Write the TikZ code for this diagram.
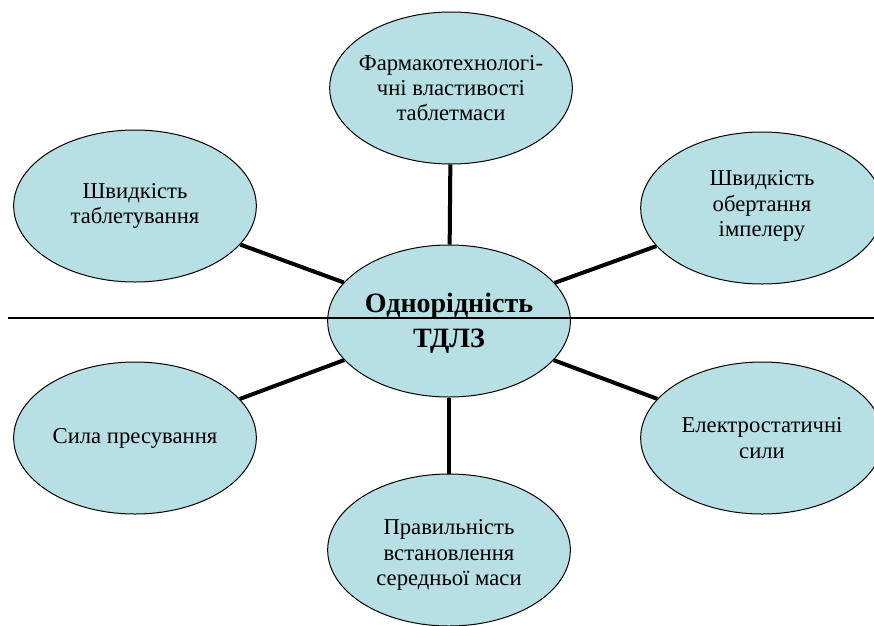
\documentclass[tikz,border=0pt]{standalone}
\usepackage{fontspec}
\setmainfont{LiberationSerif}[Extension=.ttf, UprightFont=*-Regular, BoldFont=*-Bold, ItalicFont=*-Italic, BoldItalicFont=*-BoldItalic]
\usetikzlibrary{shapes.geometric}
\definecolor{bubble}{RGB}{184,223,227}
\tikzset{
  bub/.style={shape=ellipse, draw=black, line width=0.75pt, fill=bubble,
    minimum width=182pt, minimum height=114pt, inner sep=0pt},
  lbl/.style={align=center, inner sep=0pt, font=\rmfamily\fontsize{17}{19}\selectfont},
  mainlbl/.style={align=center, inner sep=0pt, font=\rmfamily\fontsize{21}{26}\selectfont\bfseries},
  spoke/.style={line width=3pt, black},
  divider/.style={line width=1.5pt, black}
}
\begin{document}
\begin{tikzpicture}[x=0.75pt,y=-0.75pt]
\clip (0,0) rectangle (874,625);
\node[bub] (T)  at (451,88)  {};
\node[bub] (LT) at (135,206) {};
\node[bub] (RT) at (762,208) {};
\node[bub] (C)  at (449,321) {};
\node[bub] (LB) at (135,438) {};
\node[bub] (RB) at (762,438) {};
\node[bub] (B)  at (449,550) {};
\draw[spoke] (C) -- (T);
\draw[spoke] (C) -- (LT);
\draw[spoke] (C) -- (RT);
\draw[spoke] (C) -- (LB);
\draw[spoke] (C) -- (RB);
\draw[spoke] (C) -- (B);
\node[lbl] (tT)  at (451,88)  {Фармакотехнологі-\\чні властивості\\таблетмаси};
\node[lbl] (tLT) at (135,206) {Швидкість\\таблетування};
\node[lbl] (tRT) at (762,206) {Швидкість\\обертання\\імпелеру};
\node[lbl] (tLB) at (135,438) {Сила пресування};
\node[lbl] (tRB) at (762,438) {Електростатичні\\сили};
\node[lbl] (tB)  at (449,555) {Правильність\\встановлення\\середньої маси};
\node[mainlbl] (tC) at (449,323) {Однорідність\\ТДЛЗ};
\coordinate (hl) at (8,318);
\coordinate (hr) at (874,318);
\draw[divider] (hl) -- (hr);
\end{tikzpicture}
\end{document}
